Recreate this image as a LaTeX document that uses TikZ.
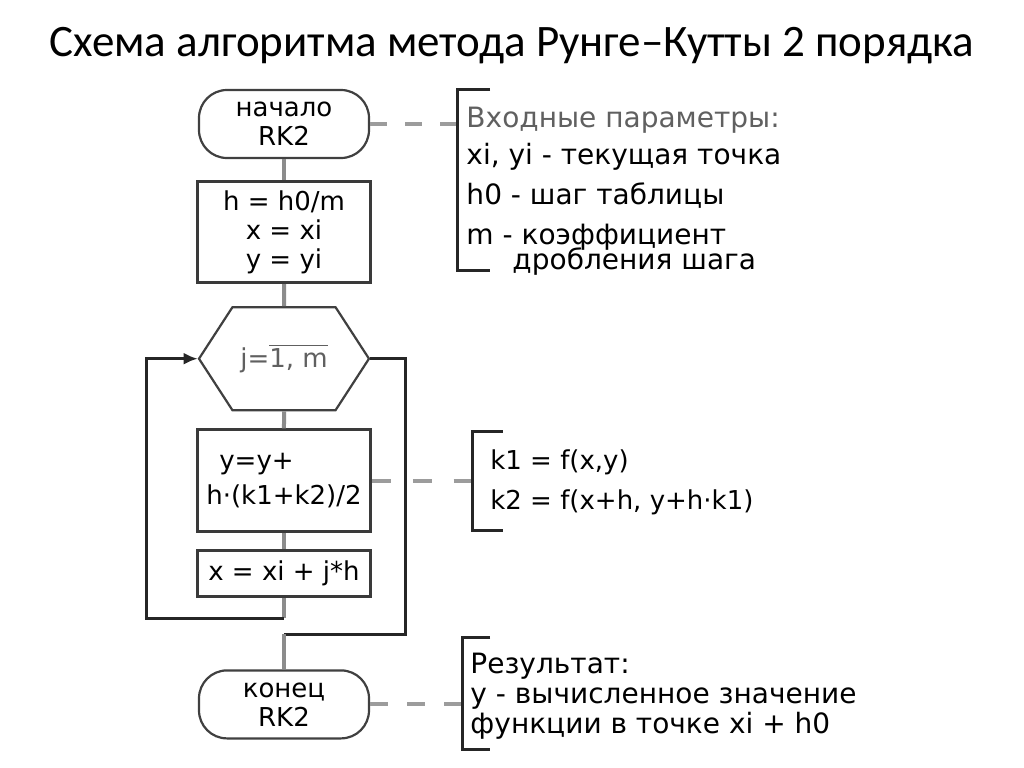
\documentclass[tikz,border=0pt]{standalone}
\usepackage{fontspec}
\setmainfont{DejaVu Sans}
\newfontfamily\titlefont{Carlito}
\usepackage{tikz}
\usetikzlibrary{arrows.meta, positioning, shapes.symbols, calc}
\usepackage{xcolor}
\definecolor{frame}{HTML}{3A3A3A}
\definecolor{flowgray}{HTML}{8C8C8C}
\definecolor{notegray}{HTML}{9C9C9C}
\definecolor{labelgray}{HTML}{606060}

\begin{document}
\begin{tikzpicture}[node distance=10pt, every node/.style={font=\fontsize{13}{14.5}\selectfont},
    term/.style={draw=black!75, line width=1.1pt, rounded corners=14pt, minimum width=85pt, minimum height=34pt, align=center, inner sep=0pt},
    proc/.style={draw=frame, line width=1.5pt, minimum width=86.5pt, align=center, inner sep=0pt},
    loophex/.style={draw=black!75, line width=1.1pt, signal, signal to=east and west, signal pointer angle=114, minimum width=85pt, minimum height=51.5pt, inner sep=0pt, text=labelgray},
    flow/.style={draw=flowgray, line width=2pt},
    loopline/.style={draw=black!85, line width=1.5pt},
    note/.style={draw=notegray, line width=2pt, dash pattern=on 8.5pt off 9pt},
    notebox/.style={inner sep=0pt, minimum width=1pt},
    notetext/.style={align=left, inner sep=0pt, font=\fontsize{14}{15}\selectfont},
    bracket/.style={draw=black!85, line width=1.5pt}]
    \path[use as bounding box, fill=white] (-142pt,62pt) rectangle (370pt,-321.5pt);
    \node[anchor=base, font=\titlefont\fontsize{22.5}{27}\selectfont] (title) at (114pt,34pt) {Схема алгоритма метода Рунге–Кутты 2 порядка};

    % main chain
    \node[term] (start) at (0,0) {начало\\RK2};
    \node[proc, minimum height=50.5pt, below=10.5pt of start] (init) {h = h0/m\\x = xi\\y = yi};
    \node[loophex, below=11pt of init] (loop) {j=$\overline{\mbox{1, m}}$};
    \node[proc, minimum height=51pt, align=left, below=8.5pt of loop] (step) {\hspace*{6.5pt}y=y+\\[3pt]h·(k1+k2)/2};
    \node[proc, minimum height=23pt, below=8pt of step] (xnext) {x = xi + j*h};
    \node[term, below=35.5pt of xnext] (finish) {конец\\RK2};

    \draw[flow] (start) -- (init);
    \draw[flow] (init) -- (loop);
    \draw[flow] (loop) -- (step);
    \draw[flow] (step) -- (xnext);

    % loop back and exit
    \coordinate[below=10pt of xnext.south] (loopbot);
    \coordinate (loopleft) at ([xshift=-25.5pt]loop.west);
    \draw[flow] (xnext) -- (loopbot);
    \draw[loopline, -{Latex[length=7pt, width=6pt]}] (loopbot) -| (loopleft) -- (loop.west);
    \coordinate (exitright) at ([xshift=17.5pt]loop.east);
    \coordinate[above=17.5pt of finish.north] (exitbot);
    \draw[loopline] (loop.east) -- (exitright) |- (exitbot);
    \draw[flow] (exitbot) -- (finish);

    % comments
    \node[notebox, minimum height=90pt, right=43.5pt of start, yshift=-28pt] (inbox) {};
    \node[notetext, below right=8.5pt and 4.5pt of inbox.north west] (intext) {\textcolor{labelgray}{Входные параметры:}\\[3.5pt]xi, yi - текущая точка\\[5pt]h0 - шаг таблицы\\[5pt]m - коэффициент\\[-2.5pt]\hspace*{23pt}дробления шага};
    \draw[note] (start) -- (start -| inbox.west);
    \draw[bracket] ([xshift=16.5pt]inbox.north west) -- (inbox.north west) -- (inbox.south west) -- ([xshift=16.5pt]inbox.south west);

    \node[notebox, minimum height=49pt, right=50.5pt of step] (kbox) {};
    \node[notetext, font=\fontsize{13}{15}\selectfont, below right=9pt and 8.5pt of kbox.north west] (ktext) {k1 = f(x,y)\\[5pt]k2 = f(x+h, y+h·k1)};
    \draw[note, dash pattern=on 9.7pt off 10.7pt] (step) -- (step -| kbox.west);
    \draw[bracket] ([xshift=15pt]kbox.north west) -- (kbox.north west) -- (kbox.south west) -- ([xshift=15pt]kbox.south west);

    \node[notebox, minimum height=56pt, right=46pt of finish, yshift=5.5pt] (resbox) {};
    \node[notetext, below right=8pt and 4pt of resbox.north west] (restext) {Результат:\\y - вычисленное значение\\функции в точке xi + h0};
    \draw[note, dash pattern=on 9pt off 9.5pt] (finish) -- (finish -| resbox.west);
    \draw[bracket] ([xshift=14pt]resbox.north west) -- (resbox.north west) -- (resbox.south west) -- ([xshift=14pt]resbox.south west);
\end{tikzpicture}
\end{document}
